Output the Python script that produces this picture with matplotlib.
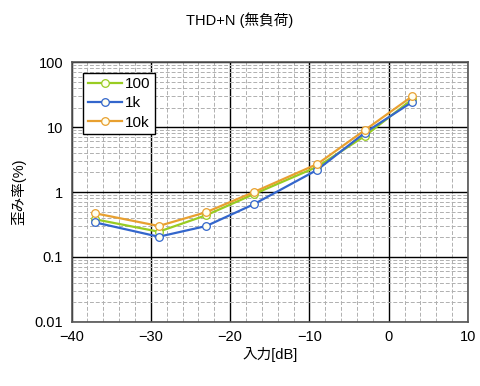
import numpy as np
import matplotlib.pyplot as plt
from matplotlib.ticker import MultipleLocator, LogLocator, NullFormatter

plt.rcParams['font.family'] = ['Liberation Sans', 'Noto Sans CJK JP', 'DejaVu Sans']

x_db = [-37, -29, -23, -17, -9, -3, 3]
thd_100 = [0.38, 0.245, 0.44, 0.93, 2.45, 7.3, 27]
thd_1k = [0.34, 0.205, 0.30, 0.65, 2.2, 8.2, 24.5]
thd_10k = [0.47, 0.30, 0.49, 1.0, 2.7, 9.0, 30]

series = [("100", thd_100, "#99cc22"), ("1k", thd_1k, "#3366cc"), ("10k", thd_10k, "#e8a030")]

fig = plt.figure(figsize=(4.8, 3.86), dpi=100)
ax = fig.add_axes([0.149, 0.166, 0.826, 0.673])

for name, vals, col in series:
    ax.plot(x_db, vals, color=col, lw=1.6, marker='o', ms=5.5,
            mfc='#fffff0', mec=col, mew=0.9, label=name)

ax.set_yscale('log')
ax.set_xlim(-40, 10)
ax.set_ylim(0.01, 100)
ax.xaxis.set_major_locator(MultipleLocator(10))
ax.xaxis.set_minor_locator(MultipleLocator(2))
ax.yaxis.set_major_locator(LogLocator(base=10, numticks=10))
ax.yaxis.set_minor_locator(LogLocator(base=10, subs=np.arange(2, 10), numticks=10))
ax.yaxis.set_minor_formatter(NullFormatter())
ax.set_yticks([0.01, 0.1, 1, 10, 100])
ax.set_yticklabels(['0.01', '0.1', '1', '10', '100'])

ax.grid(True, which='major', color='black', lw=1.0, ls='-')
ax.grid(True, which='minor', color='#b0b0b0', lw=0.7, ls=(0, (4, 2)))
ax.set_axisbelow(True)
for s in ax.spines.values():
    s.set_color('#555555')
    s.set_linewidth(1.2)
ax.tick_params(which='both', length=0, labelsize=10.5, pad=6)

fig.text(0.5, 0.948, 'THD+N (無負荷)', fontsize=10.5, ha='center', va='center')
ax.set_xlabel('入力[dB]', fontsize=10.5, labelpad=2)
ax.set_ylabel('歪み率(%)', fontsize=10.5, labelpad=6)

leg = ax.legend(loc='upper left', bbox_to_anchor=(0.03, 0.96), fontsize=11,
                frameon=True, fancybox=False, edgecolor='black', framealpha=1,
                handlelength=2.2, handletextpad=0.2, borderpad=0.3, labelspacing=0.35,
                borderaxespad=0)
leg.get_frame().set_linewidth(1.0)

fig.savefig('out.png', dpi=100)
